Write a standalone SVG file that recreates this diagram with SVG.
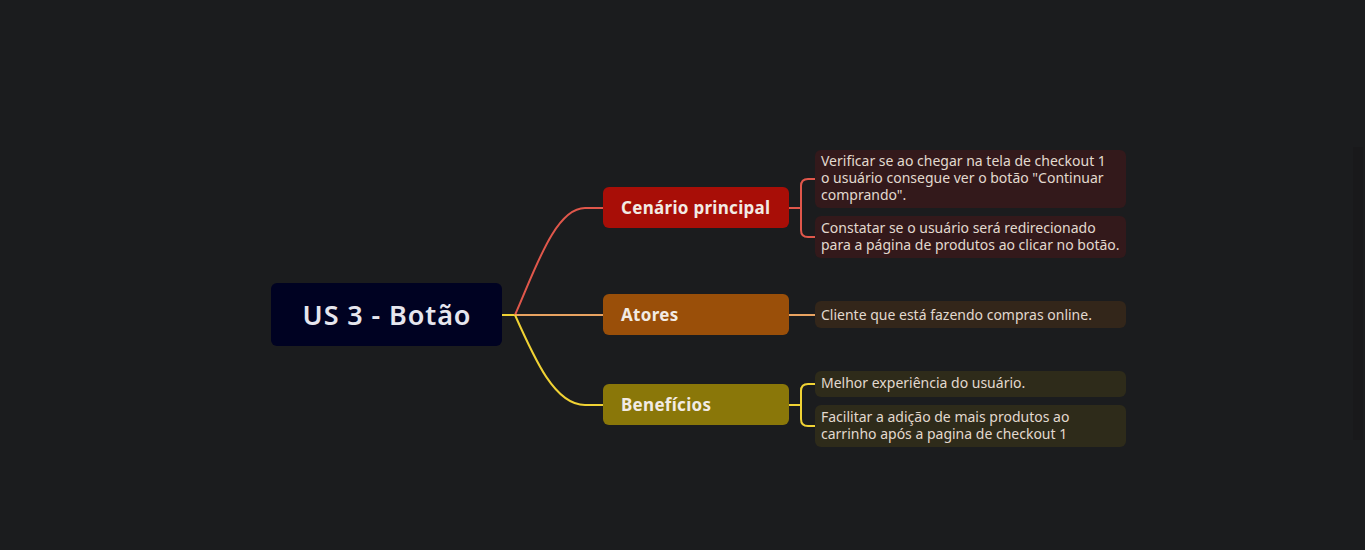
<svg xmlns="http://www.w3.org/2000/svg" width="1365" height="550" viewBox="0 0 1365 550">
<style>
text{font-family:"Noto Sans","Open Sans","Liberation Sans",sans-serif}
.root{font-size:27px;font-weight:600;fill:#e6e6ee;letter-spacing:0.9px}
.br{font-size:17px;font-weight:700;fill:#f2ebe4;letter-spacing:0.3px}
.lf{font-size:14px;fill:#e2d9cf}
.c{fill:none;stroke-width:2}
</style>
<rect width="1365" height="550" fill="#1b1c1e"/>
<rect x="1353" y="147" width="10" height="293" fill="#19191b"/>
<g id="connectors">
<path class="c" stroke="#f0d234" d="M502,315 H516"/>
<path class="c" stroke="#e0574b" d="M515,315 C535,270 555,208 585,208 H603"/>
<path class="c" stroke="#e9a361" d="M515,315 H603"/>
<path class="c" stroke="#f0d234" d="M515,315 C535,360 555,405 585,405 H603"/>
<path class="c" stroke="#e0574b" d="M789,208 H801 M815,179 H808 Q801,179 801,186 V230 Q801,237 808,237 H815"/>
<path class="c" stroke="#e9a361" d="M789,315 H815"/>
<path class="c" stroke="#f0d234" d="M789,405 H801 M815,384 H808 Q801,384 801,391 V419 Q801,426 808,426 H815"/>
</g>
<g id="root">
<rect x="271" y="283" width="231" height="63" rx="6" fill="#000222"/>
<text class="root" x="387" y="325" text-anchor="middle">US 3 - Botão</text>
</g>
<g id="cenario">
<rect x="603" y="187" width="186" height="41" rx="6" fill="#a80e07"/>
<text class="br" x="621" y="214">Cenário principal</text>
</g>
<g id="atores">
<rect x="603" y="294" width="186" height="41" rx="6" fill="#9a4f09"/>
<text class="br" x="621" y="321">Atores</text>
</g>
<g id="beneficios">
<rect x="603" y="384" width="186" height="41" rx="6" fill="#8a7709"/>
<text class="br" x="621" y="411">Benefícios</text>
</g>
<g id="leaf1">
<rect x="815" y="150" width="311" height="58" rx="6" fill="#33191b"/>
<text class="lf" x="821" y="166">Verificar se ao chegar na tela de checkout 1</text>
<text class="lf" x="821" y="183">o usuário consegue ver o botão "Continuar</text>
<text class="lf" x="821" y="200">comprando".</text>
</g>
<g id="leaf2">
<rect x="815" y="216" width="311" height="42" rx="6" fill="#33191b"/>
<text class="lf" x="821" y="233">Constatar se o usuário será redirecionado</text>
<text class="lf" x="821" y="250">para a página de produtos ao clicar no botão.</text>
</g>
<g id="leaf3">
<rect x="815" y="301" width="311" height="27" rx="6" fill="#33261a"/>
<text class="lf" x="821" y="320">Cliente que está fazendo compras online.</text>
</g>
<g id="leaf4">
<rect x="815" y="371" width="311" height="26" rx="6" fill="#2e2b1a"/>
<text class="lf" x="821" y="388">Melhor experiência do usuário.</text>
</g>
<g id="leaf5">
<rect x="815" y="405" width="311" height="42" rx="6" fill="#2e2b1a"/>
<text class="lf" x="821" y="422">Facilitar a adição de mais produtos ao</text>
<text class="lf" x="821" y="439">carrinho após a pagina de checkout 1</text>
</g>
</svg>
